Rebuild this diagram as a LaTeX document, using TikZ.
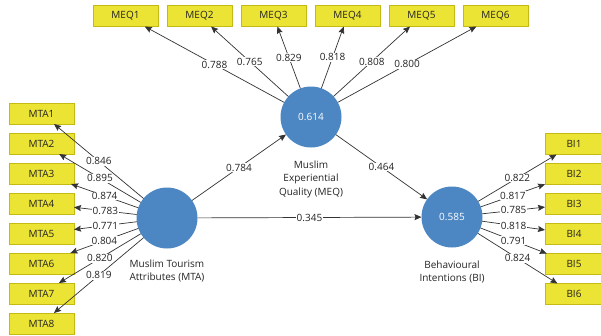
\documentclass[tikz,border=0pt]{standalone}
\usepackage{fontspec}
\setmainfont{Open Sans}
\usetikzlibrary{arrows.meta}
\definecolor{boxfill}{RGB}{236,228,52}
\definecolor{boxline}{RGB}{196,186,20}
\definecolor{lvblue}{RGB}{76,135,195}
\definecolor{linegray}{RGB}{50,50,50}
\definecolor{txt}{RGB}{35,35,35}
\tikzset{
  ind/.style={draw=boxline, fill=boxfill, line width=0.8pt, minimum width=65pt, minimum height=21pt, inner sep=0pt, outer sep=0pt, font=\fontsize{10}{12}\selectfont, text=txt},
  indbi/.style={ind, minimum width=58pt},
  lv/.style={circle, fill=lvblue, minimum size=61pt, inner sep=0pt, outer sep=0pt, text=white, font=\fontsize{10}{12}\selectfont},
  lvname/.style={align=center, font=\fontsize{10}{13.5}\selectfont, text=txt},
  conn/.style={draw=linegray, line width=0.7pt, -{Stealth[length=7pt,width=6pt,inset=1pt]}},
  lbl/.style={fill=white, inner sep=0.6pt, font=\fontsize{10}{12}\selectfont, text=txt}
}
\begin{document}
\begin{tikzpicture}[x=1pt,y=-1pt]
\useasboundingbox (0,0) rectangle (601,335);
% latent variables
\node[lv] (MTA) at (167,218) {};
\node[lv] (MEQ) at (311,117) {0.614};
\node[lv] (BI) at (452,217) {0.585};
\node[lvname] (MTAn) at (167,271) {Muslim Tourism\\Attributes (MTA)};
\node[lvname] (MEQn) at (311,179) {Muslim\\Experiential\\Quality (MEQ)};
\node[lvname] (BIn) at (452,272) {Behavioural\\Intentions (BI)};
% indicators
\foreach \i/\x in {1/125.5,2/199.5,3/273.5,4/347.5,5/421.5,6/495.5}
  \node[ind] (meq\i) at (\x,16) {MEQ\i};
\foreach \i in {1,...,8}
  \node[ind] (mta\i) at (41.5,{113.5+30*(\i-1)}) {MTA\i};
\foreach \i in {1,...,6}
  \node[indbi] (bi\i) at (574,{144+30*(\i-1)}) {BI\i};
% outer loadings
\foreach \i/\v in {1/0.846,2/0.895,3/0.874,4/0.783,5/0.771,6/0.804,7/0.820,8/0.819}
  \draw[conn] (MTA) -- node[midway,lbl] {\v} (mta\i);
\foreach \i/\v in {1/0.788,2/0.765,3/0.829,4/0.818,5/0.808,6/0.800}
  \draw[conn] (MEQ) -- node[midway,lbl] {\v} (meq\i);
\foreach \i/\v in {1/0.822,2/0.817,3/0.785,4/0.818,5/0.791,6/0.824}
  \draw[conn] (BI) -- node[midway,lbl] {\v} (bi\i);
% paths
\draw[conn] (MTA) -- node[midway,lbl] {0.784} (MEQ);
\draw[conn] (MEQ) -- node[midway,lbl] {0.464} (BI);
\draw[conn] (MTA) -- node[midway,lbl] {0.345} (BI);
\end{tikzpicture}
\end{document}
